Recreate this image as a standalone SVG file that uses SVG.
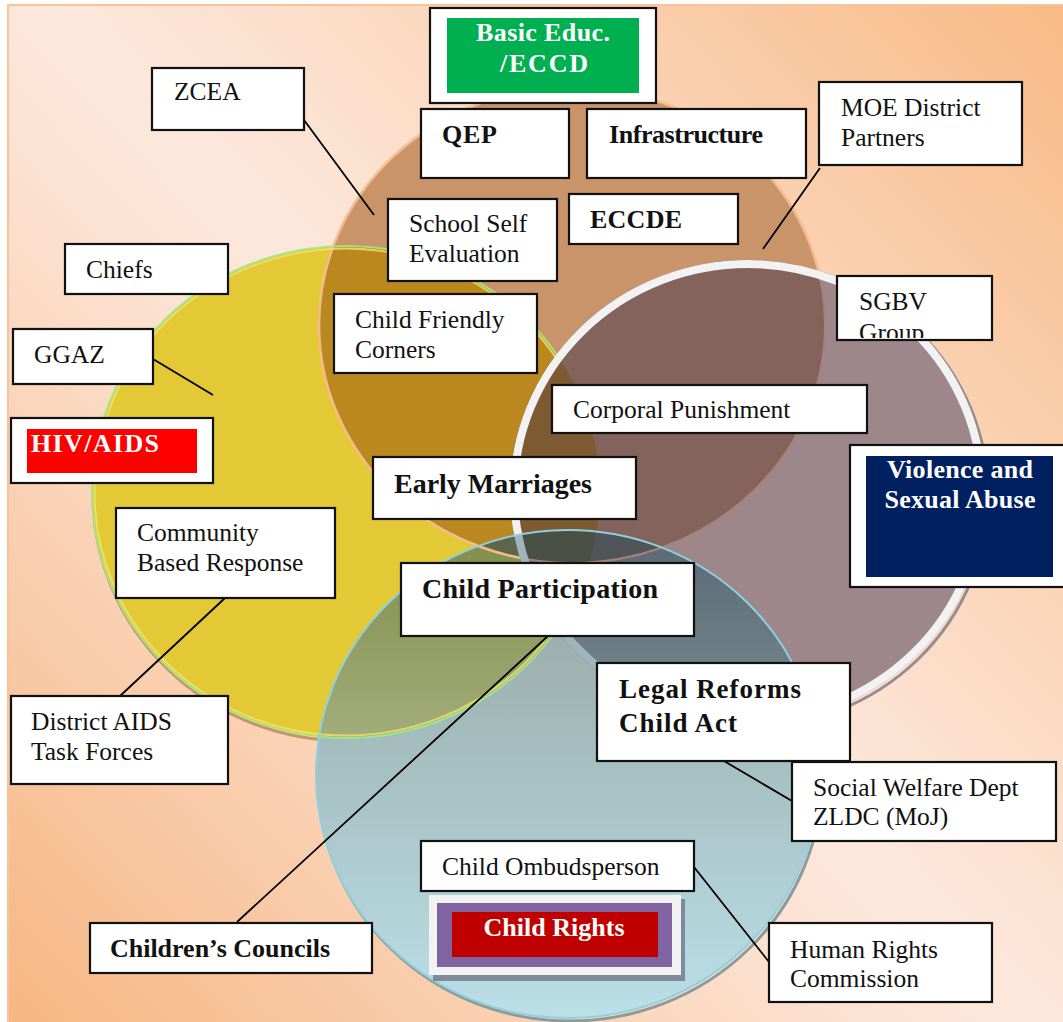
<svg xmlns="http://www.w3.org/2000/svg" width="1063" height="1022" viewBox="0 0 1063 1022">
<style>
.box{fill:#fff;stroke:#111;stroke-width:2.2}
.t{font-family:"Liberation Serif","Times New Roman",serif;font-size:25.5px;fill:#111}
.b{font-weight:bold;font-size:26px}
.bb{font-size:28px}
.w{fill:#fff}
.m{text-anchor:middle}
.conn line{stroke:#000;stroke-width:1.8}
</style>
<defs>
<linearGradient id="bg" gradientUnits="userSpaceOnUse" x1="0" y1="1022" x2="1063" y2="0">
<stop offset="0" stop-color="#f6b682"/>
<stop offset="0.42" stop-color="#fce2d2"/>
<stop offset="0.5" stop-color="#fde8dc"/>
<stop offset="0.58" stop-color="#fce2d1"/>
<stop offset="1" stop-color="#f8ba86"/>
</linearGradient>
<linearGradient id="gL" gradientUnits="userSpaceOnUse" x1="0" y1="530" x2="0" y2="1018">
<stop offset="0" stop-color="#93a29d"/>
<stop offset="1" stop-color="#bbdfe8"/>
</linearGradient>
<linearGradient id="gYL" gradientUnits="userSpaceOnUse" x1="0" y1="560" x2="0" y2="740">
<stop offset="0" stop-color="#859150"/>
<stop offset="1" stop-color="#a2ad7a"/>
</linearGradient>
<linearGradient id="gML" gradientUnits="userSpaceOnUse" x1="0" y1="530" x2="0" y2="730">
<stop offset="0" stop-color="#5a6873"/>
<stop offset="1" stop-color="#788b93"/>
</linearGradient>
<ellipse id="eB" cx="572" cy="325" rx="253" ry="238"/>
<ellipse id="eY" cx="346" cy="492" rx="254" ry="246"/>
<ellipse id="eM" cx="748" cy="492" rx="238" ry="232"/>
<ellipse id="eL" cx="568" cy="774" rx="252" ry="244"/>
<clipPath id="cB"><use href="#eB"/></clipPath>
<clipPath id="cY"><use href="#eY"/></clipPath>
<clipPath id="cM"><use href="#eM"/></clipPath>
<clipPath id="cL"><use href="#eL"/></clipPath>
<mask id="notM" maskUnits="userSpaceOnUse" x="0" y="0" width="1063" height="1022">
<rect x="0" y="0" width="1063" height="1022" fill="#fff"/>
<ellipse cx="748" cy="492" rx="236" ry="230" fill="#000"/>
</mask>
<mask id="notL" maskUnits="userSpaceOnUse" x="0" y="0" width="1063" height="1022">
<rect x="0" y="0" width="1063" height="1022" fill="#fff"/>
<ellipse cx="568" cy="774" rx="251" ry="243" fill="#000"/>
</mask>
<clipPath id="sgbvClip"><rect x="838" y="277" width="153" height="61"/></clipPath>
</defs>

<rect x="0" y="0" width="1063" height="1022" fill="#fff"/>
<rect x="8" y="5" width="1062" height="1024" fill="url(#bg)" stroke="#f9c29a" stroke-width="2"/>

<g id="venn">
<ellipse cx="347" cy="495" rx="254" ry="246" fill="none" stroke="#c9936a" stroke-width="3"/>
<ellipse cx="570" cy="777" rx="252" ry="244" fill="none" stroke="#8d9b9c" stroke-width="3"/>
<use href="#eB" fill="#c9946a"/>
<use href="#eY" fill="#e2c935"/>
<use href="#eM" fill="#9d878b"/>
<use href="#eL" fill="url(#gL)"/>
<g clip-path="url(#cB)">
<use href="#eY" fill="#bb8820"/>
<use href="#eM" fill="#84635c"/>
<use href="#eL" fill="#7d7a66"/>
</g>
<g clip-path="url(#cY)">
<use href="#eM" fill="#8e7438"/>
<use href="#eL" fill="url(#gYL)"/>
</g>
<g clip-path="url(#cM)">
<use href="#eL" fill="url(#gML)"/>
</g>
<g clip-path="url(#cB)">
<g clip-path="url(#cY)">
<use href="#eM" fill="#7e5a33"/>
<use href="#eL" fill="#5e6548"/>
</g>
<g clip-path="url(#cM)">
<use href="#eL" fill="#505559"/>
</g>
</g>
<g clip-path="url(#cY)"><g clip-path="url(#cM)"><use href="#eL" fill="#5a6a63"/></g></g>
<g clip-path="url(#cB)"><g clip-path="url(#cY)"><g clip-path="url(#cM)"><use href="#eL" fill="#4a5046"/></g></g></g>
<g mask="url(#notM)">
<ellipse cx="572" cy="325" rx="253" ry="238" fill="none" stroke="#f6bb8c" stroke-width="2.5"/>
<ellipse cx="346" cy="492" rx="254" ry="246" fill="none" stroke="#9ee88c" stroke-width="2" opacity="0.9"/>
<ellipse cx="346" cy="492" rx="251.5" ry="243.5" fill="none" stroke="#f2e26a" stroke-width="2" opacity="0.8"/>
</g>
<g clip-path="url(#cM)">
<ellipse cx="572" cy="325" rx="253" ry="238" fill="none" stroke="#a98276" stroke-width="2"/>
</g>
<ellipse cx="750" cy="495" rx="238" ry="232" fill="none" stroke="#9b8a8f" stroke-width="3" mask="url(#notL)"/>
<ellipse cx="748" cy="492" rx="234" ry="228" fill="none" stroke="#f2f2f2" stroke-width="8" mask="url(#notL)"/>
<g clip-path="url(#cL)">
<ellipse cx="748" cy="492" rx="234" ry="228" fill="none" stroke="#9fb4bb" stroke-width="8"/>
</g>
<use href="#eL" fill="none" stroke="#8fcfdf" stroke-width="2"/>
</g>

<g class="conn" id="connectors">
<line x1="304" y1="120" x2="374" y2="215"/>
<line x1="820" y1="168" x2="763" y2="249"/>
<line x1="153" y1="359" x2="213" y2="395"/>
<line x1="225" y1="598" x2="120" y2="696"/>
<line x1="548" y1="636" x2="237" y2="922"/>
<line x1="724" y1="761" x2="792" y2="801"/>
<line x1="694" y1="867" x2="769" y2="962"/>
</g>

<g id="basic-educ">
<rect class="box" x="430" y="8" width="226" height="95"/>
<rect x="447" y="18" width="192" height="75" fill="#00b050"/>
<text class="t b w m" x="543" y="41" textLength="134" lengthAdjust="spacing">Basic Educ.</text>
<text class="t b w m" x="544" y="72" textLength="88" lengthAdjust="spacing">/ECCD</text>
</g>
<g id="zcea">
<rect class="box" x="152" y="68" width="152" height="62"/>
<text class="t" x="174" y="100">ZCEA</text>
</g>
<g id="qep">
<rect class="box" x="421" y="109" width="148" height="69"/>
<text class="t b" x="442" y="143" textLength="55" lengthAdjust="spacing">QEP</text>
</g>
<g id="infrastructure">
<rect class="box" x="587" y="109" width="219" height="69"/>
<text class="t b" x="609" y="143" textLength="154" lengthAdjust="spacing">Infrastructure</text>
</g>
<g id="moe">
<rect class="box" x="819" y="82" width="203" height="83"/>
<text class="t" x="841" y="116">MOE District</text>
<text class="t" x="841" y="146">Partners</text>
</g>
<g id="school-self">
<rect class="box" x="388" y="199" width="169" height="82"/>
<text class="t" x="409" y="232">School Self</text>
<text class="t" x="409" y="262">Evaluation</text>
</g>
<g id="eccde">
<rect class="box" x="569" y="194" width="169" height="50"/>
<text class="t b" x="590" y="228" textLength="92" lengthAdjust="spacing">ECCDE</text>
</g>
<g id="chiefs">
<rect class="box" x="65" y="244" width="163" height="50"/>
<text class="t" x="86" y="278">Chiefs</text>
</g>
<g id="sgbv">
<rect class="box" x="837" y="276" width="155" height="64"/>
<g clip-path="url(#sgbvClip)">
<text class="t" x="859" y="310">SGBV</text>
<text class="t" x="859" y="341">Group</text>
</g>
</g>
<g id="child-friendly">
<rect class="box" x="334" y="294" width="203" height="79"/>
<text class="t" x="355" y="328">Child Friendly</text>
<text class="t" x="355" y="358">Corners</text>
</g>
<g id="ggaz">
<rect class="box" x="13" y="329" width="140" height="55"/>
<text class="t" x="34" y="363">GGAZ</text>
</g>
<g id="corporal">
<rect class="box" x="552" y="385" width="315" height="48"/>
<text class="t" x="573" y="418">Corporal Punishment</text>
</g>
<g id="hiv">
<rect class="box" x="11" y="418" width="202" height="65"/>
<rect x="27" y="429" width="170" height="44" fill="#ff0000"/>
<text class="t b w" x="31" y="452" textLength="128" lengthAdjust="spacing">HIV/AIDS</text>
</g>
<g id="violence">
<rect class="box" x="850" y="445" width="220" height="142"/>
<rect x="866" y="456" width="187" height="121" fill="#002060"/>
<text class="t b w m" x="960" y="478" textLength="146" lengthAdjust="spacing">Violence and</text>
<text class="t b w m" x="960" y="508" textLength="151" lengthAdjust="spacing">Sexual Abuse</text>
</g>
<g id="early-marriages">
<rect class="box" x="373" y="457" width="263" height="62"/>
<text class="t b bb" x="394" y="493" textLength="198" lengthAdjust="spacing">Early Marriages</text>
</g>
<g id="community">
<rect class="box" x="116" y="508" width="219" height="90"/>
<text class="t" x="137" y="541">Community</text>
<text class="t" x="137" y="571">Based Response</text>
</g>
<g id="child-participation">
<rect class="box" x="401" y="563" width="293" height="73"/>
<text class="t b bb" x="422" y="598" textLength="236" lengthAdjust="spacing">Child Participation</text>
</g>
<g id="legal">
<rect class="box" x="597" y="663" width="253" height="98"/>
<text class="t b" x="619" y="698" style="font-size:27px" textLength="182" lengthAdjust="spacing">Legal Reforms</text>
<text class="t b" x="619" y="732" style="font-size:27px" textLength="118" lengthAdjust="spacing">Child Act</text>
</g>
<g id="district-aids">
<rect class="box" x="11" y="696" width="217" height="88"/>
<text class="t" x="31" y="730">District AIDS</text>
<text class="t" x="31" y="760">Task Forces</text>
</g>
<g id="social-welfare">
<rect class="box" x="792" y="762" width="264" height="79"/>
<text class="t" x="813" y="796">Social Welfare Dept</text>
<text class="t" x="813" y="825">ZLDC (MoJ)</text>
</g>
<g id="ombudsperson">
<rect class="box" x="421" y="841" width="273" height="50"/>
<text class="t" x="442" y="875">Child Ombudsperson</text>
</g>
<g id="child-rights">
<rect x="433" y="899" width="252" height="82" fill="#7f8b9b"/>
<rect x="429" y="895" width="252" height="80" fill="#f2f2f2"/>
<rect x="437" y="903" width="235" height="64" fill="#8064a2"/>
<rect x="452" y="912" width="206" height="45" fill="#c00000"/>
<text class="t b w m" x="554" y="936" textLength="141" lengthAdjust="spacing">Child Rights</text>
</g>
<g id="childrens-councils">
<rect class="box" x="90" y="923" width="282" height="50"/>
<text class="t b" x="110" y="957" textLength="220" lengthAdjust="spacing">Children’s Councils</text>
</g>
<g id="human-rights">
<rect class="box" x="769" y="923" width="223" height="79"/>
<text class="t" x="790" y="958">Human Rights</text>
<text class="t" x="790" y="987">Commission</text>
</g>
</svg>
